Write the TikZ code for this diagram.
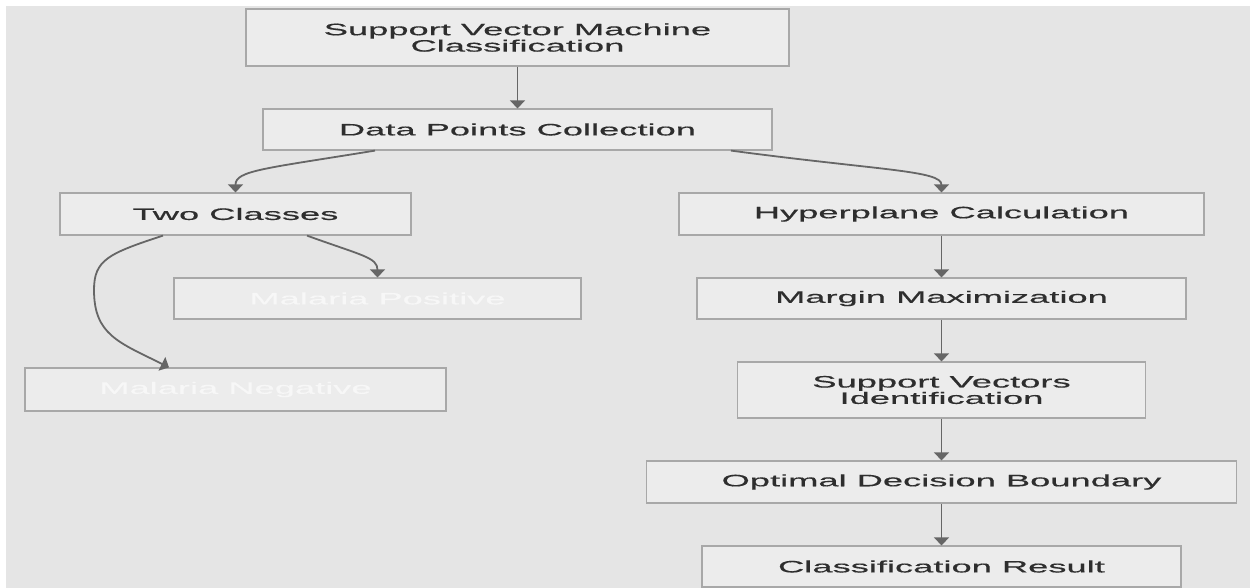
\documentclass[tikz,border=0pt]{standalone}
\usepackage{fontspec}
\setmainfont[FakeStretch=2.2,FakeBold=0.5]{Liberation Sans}
\usetikzlibrary{arrows.meta}
\definecolor{bgcol}{HTML}{E5E5E5}
\definecolor{boxfill}{HTML}{ECECEC}
\definecolor{boxline}{HTML}{A8A8A8}
\definecolor{arrcol}{HTML}{666666}
\definecolor{txtcol}{HTML}{2E2E2E}
\definecolor{faint}{HTML}{F7F7F7}
\tikzset{
  boxnode/.style={draw=boxline, fill=boxfill, line width=1.2pt, inner sep=0pt,
    align=center, text=txtcol, font=\fontsize{16.5}{15}\selectfont},
  fainttext/.style={text=faint},
  arr/.style={draw=arrcol, line width=1.8pt, -{Triangle[width=15pt,length=8pt]}}
}
\begin{document}
\begin{tikzpicture}[x=1pt,y=-1pt]
\useasboundingbox (0,0) rectangle (1250,588);
\fill[white] (0,0) rectangle (1250,588);
\fill[bgcol] (6,6) rectangle (1250,588);

\node[boxnode, minimum width=543pt, minimum height=57pt] (svm) at (517.5,37.5) {Support Vector Machine\\Classification};
\node[boxnode, minimum width=509pt, minimum height=41pt] (dp) at (517.5,129.5) {Data Points Collection};
\node[boxnode, minimum width=351pt, minimum height=42pt] (two) at (235.5,214) {Two Classes};
\node[boxnode, fainttext, minimum width=407pt, minimum height=41pt] (pos) at (377.5,298.5) {Malaria Positive};
\node[boxnode, fainttext, minimum width=421pt, minimum height=43pt] (neg) at (235.5,389.5) {Malaria Negative};
\node[boxnode, minimum width=525pt, minimum height=42pt] (hyp) at (941.5,214) {Hyperplane Calculation};
\node[boxnode, minimum width=489pt, minimum height=41pt] (mar) at (941.5,298.5) {Margin Maximization};
\node[boxnode, minimum width=408pt, minimum height=56pt] (sv) at (941.5,390) {Support Vectors\\Identification};
\node[boxnode, minimum width=590pt, minimum height=42pt] (opt) at (941.5,482) {Optimal Decision Boundary};
\node[boxnode, minimum width=479pt, minimum height=41pt] (res) at (941.5,566.5) {Classification Result};

\coordinate (bend) at (94,290);

\draw[arr] (svm.south) -- (dp.north);
\draw[arr] ([xshift=-142.5pt]dp.south) .. controls +(-110,18) and +(0,-22) .. (two.north);
\draw[arr] ([xshift=213.5pt]dp.south) .. controls +(150,20) and +(0,-22) .. (hyp.north);
\draw[arr] ([xshift=71.5pt]two.south) .. controls +(55,20) and +(0,-20) .. (pos.north);
\draw[arr] ([xshift=-72.5pt]two.south) .. controls +(-55,18) and +(0,-30) .. (bend)
  .. controls +(0,45) and +(-50,-25) .. ([xshift=-66.5pt]neg.north);
\draw[arr] (hyp.south) -- (mar.north);
\draw[arr] (mar.south) -- (sv.north);
\draw[arr] (sv.south) -- (opt.north);
\draw[arr] (opt.south) -- (res.north);
\end{tikzpicture}
\end{document}
